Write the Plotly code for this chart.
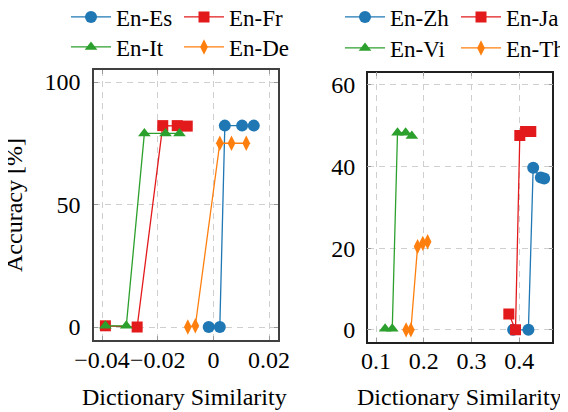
# -*- coding: utf-8 -*-
# what : accuracy vs dictionary similarity (two panels)
import plotly.graph_objects as go

#---------------------------------------------------
# left panel : European pairs
es_x = [-0.0017, 0.0023, 0.0041, 0.0103, 0.0145]
es_y = [0, 0, 82.2, 82.2, 82.2]
fr_x = [-0.0388, -0.0274, -0.0182, -0.0130, -0.0094]
fr_y = [0.5, 0, 82.2, 82.2, 82.0]
it_x = [-0.0388, -0.0313, -0.0248, -0.0172, -0.0122]
it_y = [0.5, 0.5, 79, 79, 79]
de_x = [-0.0092, -0.0065, 0.0023, 0.0065, 0.0118]
de_y = [0, 0.5, 75, 75, 75]

# right panel : Asian pairs
zh_x = [0.387, 0.419, 0.429, 0.445, 0.452]
zh_y = [0, 0, 39.7, 37.3, 37.1]
ja_x = [0.378, 0.392, 0.401, 0.413, 0.424]
ja_y = [3.9, 0, 47.6, 48.6, 48.6]
vi_x = [0.119, 0.134, 0.145, 0.162, 0.175]
vi_y = [0.3, 0.3, 48.3, 48.3, 47.5]
th_x = [0.163, 0.173, 0.187, 0.198, 0.208]
th_y = [0, 0, 20.4, 21.2, 21.6]

left_xticks = [-0.04, -0.02, 0, 0.02]
left_yticks = [0, 50, 100]
right_xticks = [0.1, 0.2, 0.3, 0.4]
right_yticks = [0, 20, 40, 60]

BLUE, RED, GREEN, ORANGE = "#1f77b4", "#e31a1c", "#2ca02c", "#ff7f0e"
FONT = "Liberation Serif"
# the page body keeps an 8px margin, so the figure is 8px smaller
# and every screen position below is shifted by OFF
OFF = 8
W, H = 568 - OFF, 412 - OFF

def px(x):
  return (x - OFF) / W

def py(y):
  return 1 - (y - OFF) / H

#---------------
def add(fig, x, y, name, color, symbol, size, ax, leg):
  fig.add_trace(go.Scatter(
    x=x, y=y, name=name, mode="lines+markers",
    line=dict(color=color, width=1.3),
    marker=dict(color=color, symbol=symbol, size=size),
    xaxis="x" + ax, yaxis="y" + ax, legend=leg))

fig = go.Figure()
add(fig, es_x, es_y, "En-Es", BLUE, "circle", 12, "", "legend")
add(fig, fr_x, fr_y, "En-Fr", RED, "square", 11, "", "legend")
add(fig, it_x, it_y, "En-It", GREEN, "triangle-up", 11, "", "legend2")
add(fig, de_x, de_y, "En-De", ORANGE, "diamond-tall", 11, "", "legend2")
add(fig, zh_x, zh_y, "En-Zh", BLUE, "circle", 12, "2", "legend3")
add(fig, ja_x, ja_y, "En-Ja", RED, "square", 11, "2", "legend3")
add(fig, vi_x, vi_y, "En-Vi", GREEN, "triangle-up", 11, "2", "legend4")
add(fig, th_x, th_y, "En-Th", ORANGE, "diamond-tall", 11, "2", "legend4")

tickfont = dict(family=FONT, size=24, color="black")

def axis(linecolor, **kw):
  return dict(
    showgrid=True, griddash="6px,5px", gridcolor="#cfcfcf", gridwidth=1,
    zeroline=False, showline=True, linecolor=linecolor, linewidth=1.5,
    mirror="allticks", ticks="inside", ticklen=4, tickcolor="#999999",
    tickfont=tickfont, tickangle=0, automargin=False, **kw)

def leg(x, y, ew):
  return dict(x=px(x), y=py(y), xanchor="left", yanchor="middle",
              orientation="h", entrywidth=ew, entrywidthmode="pixels",
              itemwidth=40, bgcolor="rgba(0,0,0,0)",
              font=dict(family=FONT, size=23, color="black"))

def label(text, x, y, angle=0):
  return dict(text=text, x=px(x), y=py(y), textangle=angle,
              xref="paper", yref="paper", xanchor="center", yanchor="middle",
              showarrow=False, font=dict(family=FONT, size=24, color="black"))

fig.update_layout(
  width=W, height=H, margin=dict(l=0, r=0, t=0, b=0, autoexpand=False),
  paper_bgcolor="white", plot_bgcolor="white",
  xaxis=axis("#404040", domain=[px(94), px(278)], range=[-0.0429, 0.0232],
             tickvals=left_xticks, anchor="y", ticklabelstandoff=-3),
  yaxis=axis("#404040", domain=[py(340), py(70)], range=[-5.3, 104.9],
             tickvals=left_yticks, anchor="x", ticklabelstandoff=7),
  xaxis2=axis("#202020", domain=[px(367.7), px(552.3)], range=[0.0826, 0.469],
              tickvals=right_xticks, anchor="y2", ticklabelstandoff=-3),
  yaxis2=axis("#202020", domain=[py(341.7), py(72.7)], range=[-2.9, 63],
              tickvals=right_yticks, anchor="x2", ticklabelstandoff=6),
  legend=leg(66, 17, 58), legend2=leg(66, 47, 58),
  legend3=leg(340, 17, 61), legend4=leg(340, 48, 61),
  annotations=[
    label("Dictionary Similarity", 184, 397),
    label("Dictionary Similarity", 459, 397),
    label("Accuracy [%]", 14, 205, -90),
  ],
)

fig.write_html("out.html")
